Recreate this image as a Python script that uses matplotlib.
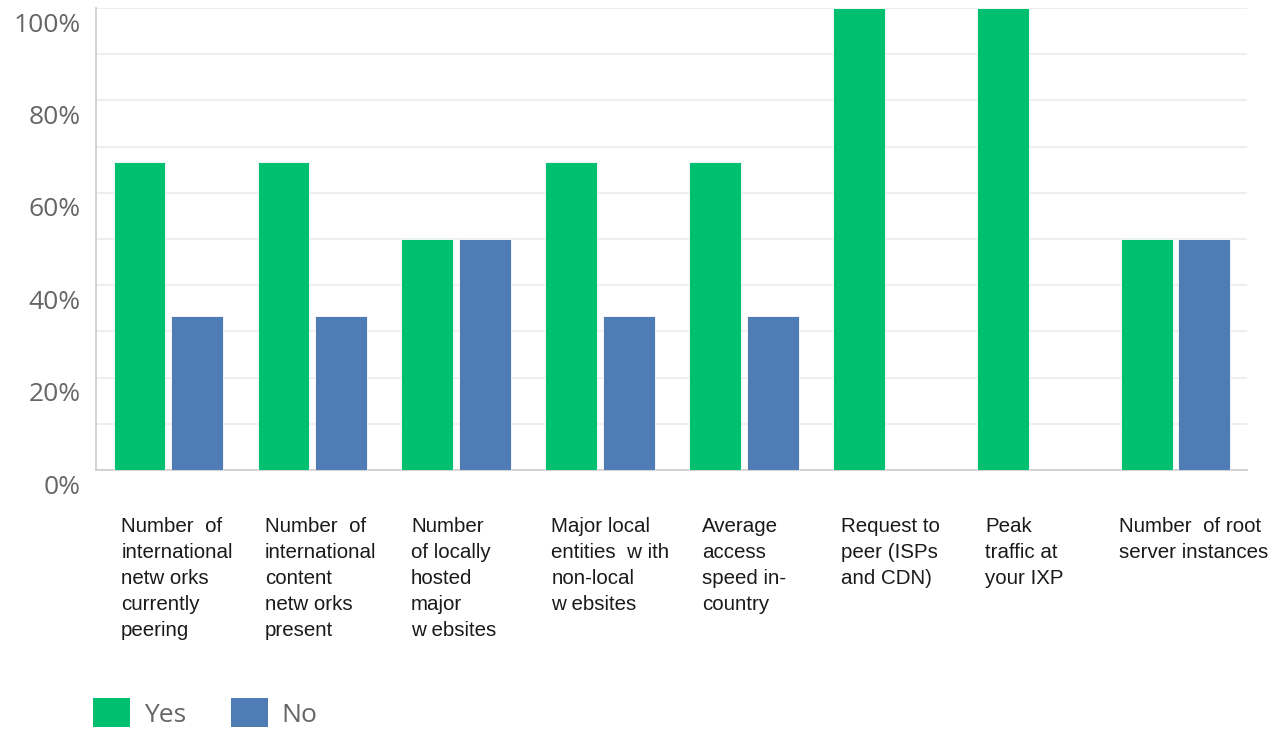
import matplotlib.pyplot as plt
import matplotlib.transforms as mtransforms
from matplotlib.patches import Patch

# data
categories = [
    "Number  of\ninternational\nnetw orks\ncurrently\npeering",
    "Number  of\ninternational\ncontent\nnetw orks\npresent",
    "Number\nof locally\nhosted\nmajor\nw ebsites",
    "Major local\nentities  w ith\nnon-local\nw ebsites",
    "Average\naccess\nspeed in-\ncountry",
    "Request to\npeer (ISPs\nand CDN)",
    "Peak\ntraffic at\nyour IXP",
    "Number  of root\nserver instances",
]
yes_pct = [66.7, 66.7, 50.0, 66.7, 66.7, 100.0, 100.0, 50.0]
no_pct = [33.3, 33.3, 50.0, 33.3, 33.3, 0.0, 0.0, 50.0]
y_ticks = [0, 20, 40, 60, 80, 100]
series_names = ["Yes", "No"]

GREEN = "#00bf6f"
BLUE = "#507cb6"

fig = plt.figure(figsize=(12.8, 7.31), dpi=100)
ax = fig.add_axes([96 / 1280, 261 / 731, 1151 / 1280, 462 / 731])

n = len(categories)
xs = [i + 0.5 for i in range(n)]
w = 0.36
ax.bar([x - 0.197 for x in xs], yes_pct, width=w, color=GREEN,
       edgecolor="white", linewidth=0.6, zorder=3)
ax.bar([x + 0.203 for x in xs], no_pct, width=w, color=BLUE,
       edgecolor="white", linewidth=0.6, zorder=3)

ax.set_xlim(0, n)
ax.set_ylim(0, 100)
ax.set_xticks([])
ax.set_yticks(y_ticks)
ax.set_yticklabels([f"{t}%" for t in y_ticks])
ax.set_yticks([10, 30, 50, 70, 90], minor=True)
ax.grid(axis="y", which="both", color="#ebebeb", linewidth=1.2, zorder=0)
ax.tick_params(axis="y", which="both", length=0, pad=11,
               labelsize=19, labelcolor="#666666")
for lab in ax.get_yticklabels():
    lab.set_fontfamily("Open Sans")
    lab.set_transform(lab.get_transform() +
                      mtransforms.ScaledTranslation(0, -0.14, fig.dpi_scale_trans))

for s in ["top", "right"]:
    ax.spines[s].set_visible(False)
for s in ["left", "bottom"]:
    ax.spines[s].set_color("#cfcfcf")
    ax.spines[s].set_linewidth(1.3)

# category labels under each group
nudge = [0.175, 0.175, 0.19, 0.165, 0.215, 0.175, 0.18, 0.11]
trans = mtransforms.blended_transform_factory(ax.transData, fig.transFigure)
for i, lab in enumerate(categories):
    ax.text(i + nudge[i], 1 - 517 / 731, lab, transform=trans,
            ha="left", va="top", fontsize=14.8, family="Liberation Sans",
            color="#1a1a1a", linespacing=1.47)

handles = [Patch(facecolor=GREEN, edgecolor="none"),
           Patch(facecolor=BLUE, edgecolor="none")]
fig.legend(handles, series_names, loc="center left",
           bbox_to_anchor=(93 / 1280, 1 - 713 / 731), ncol=2, frameon=False,
           handlelength=1.4, handleheight=1.3, handletextpad=0.53,
           columnspacing=1.7, borderpad=0, borderaxespad=0,
           prop={"family": "Open Sans", "size": 19}, labelcolor="#666666")

fig.savefig("out.png", dpi=100)
